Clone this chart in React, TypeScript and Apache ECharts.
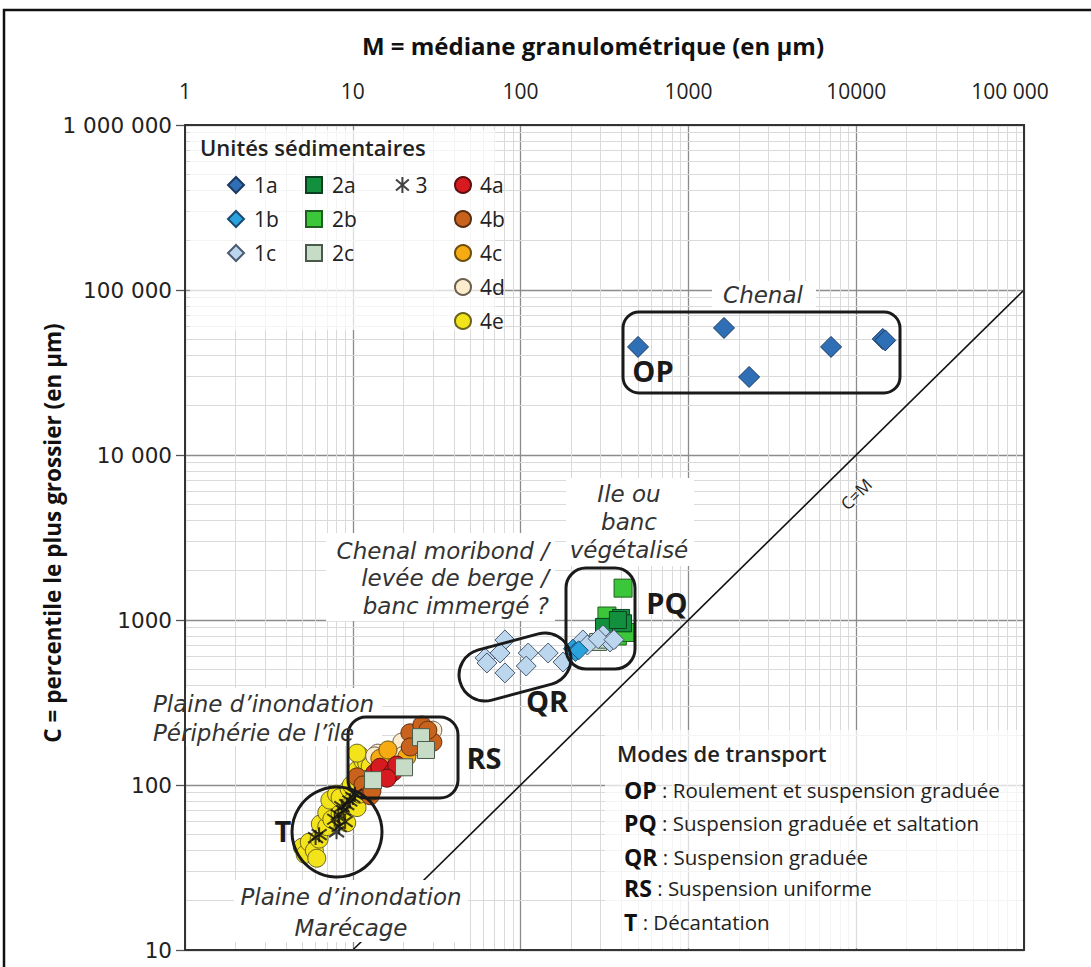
import React, { useEffect, useRef } from 'react';
import * as echarts from 'echarts';

// ---- Axis ticks ----
const xTickValues = [1, 10, 100, 1000, 10000, 100000];
const xTickLabels = ['1', '10', '100', '1000', '10000', '100 000'];
const yTickValues = [10, 100, 1000, 10000, 100000, 1000000];
const yTickLabels = ['10', '100', '1000', '10 000', '100 000', '1 000 000'];

// ---- Data: [M (median, µm), C (coarsest percentile, µm)] ----
const s1a = [[501, 45200], [1630, 58900], [2300, 29700], [7080, 45200], [14400, 50500], [14900, 49500]];
const s1b = [[205, 670], [212, 640], [222, 655]];
const s1c = [[80.7, 757], [75.4, 631], [61.4, 589], [63, 549], [80.7, 478], [111, 631], [108, 526], [146, 631], [179, 556], [235, 757], [250, 705], [310, 811], [341, 736], [290, 770], [360, 760]];
const s2a = [[397, 1029], [314, 908], [408, 955], [380, 1000]];
const s2b = [[408, 1560], [327, 1057], [403, 869], [377, 800], [420, 840]];
const s2c = [[13.2, 107], [20.2, 128], [25.5, 195], [27.3, 163], [290, 736], [330, 760]];
const s3 = [[6.0, 48], [6.3, 50], [8.0, 52], [8.3, 56], [7.8, 62], [8.2, 66], [8.8, 70], [9.2, 76], [9.6, 80], [10.0, 84], [8.6, 74], [9.0, 60], [10.3, 88]];
const s4a = [[13.5, 118], [14.5, 128], [17.4, 120], [18.3, 132], [16, 110]];
const s4b = [[10.6, 112], [11.5, 100], [12.7, 86], [13, 92], [16.6, 116], [21.9, 207], [25.8, 231], [30, 182], [22, 170], [28, 215]];
const s4c = [[14.5, 145], [16.2, 163], [21, 148], [23, 175], [27, 200]];
const s4d = [[14.1, 156], [19.6, 182], [19.9, 151], [30, 215], [22, 165], [13.5, 150]];
const s4e = [[5.0, 42], [5.2, 38], [5.5, 45], [5.9, 40], [6.1, 36], [6.3, 47], [6.4, 58], [7.0, 56], [7.0, 68], [7.3, 81], [7.5, 62], [8.0, 88], [8.4, 67], [8.4, 84], [9.2, 59], [9.5, 95], [10.0, 80], [10.6, 73], [11.0, 88], [10.6, 123], [10.8, 112], [11.0, 151], [11.5, 140], [12.1, 136], [12.7, 130], [10.6, 156], [9.8, 100], [11.8, 108]];
const cmLine = [[10, 10], [100000, 100000]];

const transportModes = [
  ['OP', 'Roulement et suspension graduée'],
  ['PQ', 'Suspension graduée et saltation'],
  ['QR', 'Suspension graduée'],
  ['RS', 'Suspension uniforme'],
  ['T', 'Décantation'],
];

const asterisk = 'path://M10,0L10,20M2,3L18,17M2,17L18,3';

function minorValues(decades: number[]) {
  const out: number[] = [];
  for (let i = 0; i < decades.length - 1; i++) {
    for (let k = 2; k <= 9; k++) out.push(decades[i] * k);
  }
  return out;
}

export default function App() {
  const ref = useRef<HTMLDivElement>(null);
  useEffect(() => {
    if (!ref.current) return;
    const chart = echarts.init(ref.current, null, { renderer: 'svg' });
    const FONT = '"Open Sans", "Noto Sans", sans-serif';
    const IFONT = '"DejaVu Sans", sans-serif';

    const sc = (name: string, data: number[][], symbol: string, size: number, fill: string, border: string, z = 4) => ({
      name, type: 'scatter', data, symbol, symbolSize: size, z,
      itemStyle: { color: fill, borderColor: border, borderWidth: 1, opacity: 1 },
      emphasis: { disabled: true },
    });

    const minorX = minorValues(xTickValues);
    const minorY = minorValues(yTickValues);

    const legendBase = {
      orient: 'vertical', top: 169, itemWidth: 16, itemHeight: 16, itemGap: 12,
      selectedMode: false,
      textStyle: { fontFamily: FONT, fontSize: 21, color: '#222', lineHeight: 22, padding: [0, 0, 0, 5] },
    };

    const italic = (text: string, x: number, y: number, align = 'center', lh = 28) => ({
      type: 'text', x, y, z: 6, silent: true,
      style: { text, fontFamily: IFONT, fontStyle: 'italic', fontSize: 23, lineHeight: lh, fill: '#333', align, verticalAlign: 'middle' },
    });
    const bold = (text: string, x: number, y: number) => ({
      type: 'text', x, y, z: 6, silent: true,
      style: { text, fontFamily: FONT, fontWeight: 'bold', fontSize: 29, fill: '#1a1a1a', align: 'center', verticalAlign: 'middle' },
    });
    const whiteRect = (x: number, y: number, w: number, h: number, fill = '#fff') => ({
      type: 'rect', z: 3, silent: true, shape: { x, y, width: w, height: h }, style: { fill, stroke: 'none' },
    });
    const box = (x: number, y: number, w: number, h: number, r: number) => ({
      type: 'rect', z: 6, silent: true, shape: { x, y, width: w, height: h, r },
      style: { fill: 'none', stroke: '#1a1a1a', lineWidth: 3 },
    });

    const graphic: any[] = [
      // outer frame
      { type: 'rect', z: 10, silent: true, shape: { x: 4, y: 10, width: 1120, height: 1000 }, style: { fill: 'none', stroke: '#111', lineWidth: 2.5 } },
      // axis titles
      { type: 'text', x: 593, y: 45, z: 6, style: { text: 'M = médiane granulométrique (en µm)', fontFamily: FONT, fontWeight: 'bold', fontSize: 24, fill: '#111', align: 'center', verticalAlign: 'middle' } },
      { type: 'text', x: 52, y: 533, rotation: Math.PI / 2, z: 6, style: { text: 'C = percentile le plus grossier (en µm)', fontFamily: FONT, fontWeight: 'bold', fontSize: 22.5, fill: '#111', align: 'center', verticalAlign: 'middle' } },
      // legend backgrounds
      whiteRect(190, 130, 305, 200, 'rgba(255,255,255,0.7)'),
      whiteRect(605, 730, 417, 218, 'rgba(255,255,255,0.7)'),
      { type: 'text', x: 200, y: 147, z: 6, style: { text: 'Unités sédimentaires', fontFamily: FONT, fontWeight: 600, fontSize: 22, fill: '#222', verticalAlign: 'middle' } },
      { type: 'text', x: 617, y: 753, z: 6, style: { text: 'Modes de transport', fontFamily: FONT, fontWeight: 600, fontSize: 22, fill: '#222', verticalAlign: 'middle' } },
      // white backgrounds of annotations
      whiteRect(712, 281, 104, 29),
      whiteRect(566, 478, 128, 88),
      whiteRect(326, 533, 229, 88),
      whiteRect(150, 688, 232, 58),
      whiteRect(234, 880, 234, 62),
      // annotation shapes
      box(623, 312, 277, 81, 16),
      box(566, 568, 69, 101, 20),
      box(348, 717, 110, 81, 18),
      { type: 'rect', z: 6, silent: true, x: 515, y: 667, rotation: 0.26, shape: { x: -57, y: -26, width: 114, height: 52, r: 26 }, style: { fill: 'none', stroke: '#1a1a1a', lineWidth: 3 } },
      { type: 'circle', z: 6, silent: true, shape: { cx: 337, cy: 832, r: 45 }, style: { fill: 'none', stroke: '#1a1a1a', lineWidth: 3 } },
      // labels
      italic('Chenal', 763, 295),
      bold('OP', 653, 370),
      bold('PQ', 667, 602),
      bold('QR', 547, 700),
      bold('RS', 484, 757),
      bold('T', 283, 830),
      italic('Ile ou\nbanc\nvégétalisé', 629, 522, 'center', 28),
      italic('Chenal moribond /\nlevée de berge /\nbanc immergé ?', 549, 578, 'right', 27.5),
      italic('Plaine d’inondation\nPériphérie de l’île', 153, 718, 'left', 29),
      italic('Plaine d’inondation\nMarécage', 351, 912, 'center', 31),
      { type: 'text', x: 856, y: 494, rotation: Math.PI / 4, z: 6, style: { text: 'C=M', fontFamily: FONT, fontSize: 17, fill: '#222', align: 'center', verticalAlign: 'middle' } },
      ...transportModes.map((m, i) => ({
        type: 'text', x: 624, y: [790, 823, 857, 888, 922][i], z: 6,
        style: {
          text: `{b|${m[0]}} : ${m[1]}`, fontFamily: FONT, fontSize: 20.5, fill: '#222', verticalAlign: 'middle',
          rich: { b: { fontFamily: FONT, fontWeight: 'bold', fontSize: 23, fill: '#111' } },
        },
      })),
    ];

    chart.setOption({
      animation: false,
      backgroundColor: '#fff',
      grid: { left: 185, top: 125, width: 839, height: 825, show: true, borderColor: '#333', borderWidth: 2, backgroundColor: 'transparent', z: 7 },
      xAxis: {
        type: 'log', logBase: 10, position: 'top', min: 1, max: 100000, interval: 1,
        axisLine: { show: false }, axisTick: { show: false },
        axisLabel: {
          margin: 24, fontFamily: FONT, fontSize: 21, color: '#222',
          formatter: (v: number) => {
            const i = xTickValues.findIndex((t) => Math.abs(t - v) / t < 1e-6);
            if (i < 0) return '';
            return i === xTickValues.length - 1 ? `{last|${xTickLabels[i]}}` : xTickLabels[i];
          },
          rich: { last: { fontFamily: FONT, fontSize: 21, color: '#222', padding: [0, 28, 0, 0] } },
        },
        splitLine: { show: true, lineStyle: { color: '#8c8c8c', width: 1.3 } },
      },
      yAxis: {
        type: 'log', logBase: 10, min: 10, max: 1000000, interval: 1,
        axisLine: { show: false },
        axisTick: { show: true, length: 9, lineStyle: { color: '#555', width: 1.3 } },
        axisLabel: {
          margin: 13, fontFamily: '"DejaVu Sans", sans-serif', fontSize: 21.5, color: '#222',
          formatter: (v: number) => {
            const i = yTickValues.findIndex((t) => Math.abs(t - v) / t < 1e-6);
            return i < 0 ? '' : yTickLabels[i];
          },
        },
        splitLine: { show: true, lineStyle: { color: '#8c8c8c', width: 1.3 } },
      },
      legend: [
        { ...legendBase, left: 222, data: ['1a', '1b', '1c'] },
        { ...legendBase, left: 300, data: ['2a', '2b', '2c'] },
        { ...legendBase, left: 390, data: ['3'], textStyle: { ...legendBase.textStyle, padding: [0, 0, 0, 0] } },
        { ...legendBase, left: 449, data: ['4a', '4b', '4c', '4d', '4e'], textStyle: { ...legendBase.textStyle, padding: [0, 0, 0, 4] } },
      ],
      series: [
        {
          name: 'C=M', type: 'line', data: cmLine, symbol: 'none', z: 2, silent: true,
          lineStyle: { color: '#111', width: 1.6 },
          markLine: {
            silent: true, symbol: ['none', 'none'], label: { show: false }, z: 1,
            lineStyle: { color: '#dadada', width: 1, type: 'solid' },
            emphasis: { disabled: true },
            data: [...minorX.map((v) => ({ xAxis: v })), ...minorY.map((v) => ({ yAxis: v }))],
          },
        },
        sc('4e', s4e, 'circle', 18, '#f3e31a', '#6b6320'),
        sc('4d', s4d, 'circle', 18, '#fdebcd', '#6b6050'),
        sc('4c', s4c, 'circle', 18, '#f6ab12', '#6b5010'),
        sc('4b', s4b, 'circle', 18, '#c8621d', '#5a3010'),
        sc('4a', s4a, 'circle', 18, '#d71a1f', '#5a1010'),
        sc('2c', s2c, 'rect', 17, '#c6dcc6', '#4a5a4a'),
        sc('2b', s2b, 'rect', 18, '#3cc63a', '#1e5e1e'),
        sc('2a', s2a, 'rect', 17, '#12903e', '#0a4020'),
        sc('1c', s1c, 'diamond', 20, '#bcd6ee', '#4a5a70'),
        sc('1b', s1b, 'diamond', 19, '#2aa3dd', '#1a4a70'),
        sc('1a', s1a, 'diamond', 21, '#2f6fb6', '#1a3a60'),
        {
          name: '3', type: 'scatter', data: s3, symbol: asterisk, symbolSize: 15, z: 5,
          itemStyle: { color: 'rgba(0,0,0,0)', borderColor: '#111', borderWidth: 2 },
          emphasis: { disabled: true },
        },
      ],
      graphic,
    });
    return () => chart.dispose();
  }, []);
  return <div ref={ref} style={{ position: 'fixed', left: 0, top: 0, width: 1091, height: 967 }} />;
}
